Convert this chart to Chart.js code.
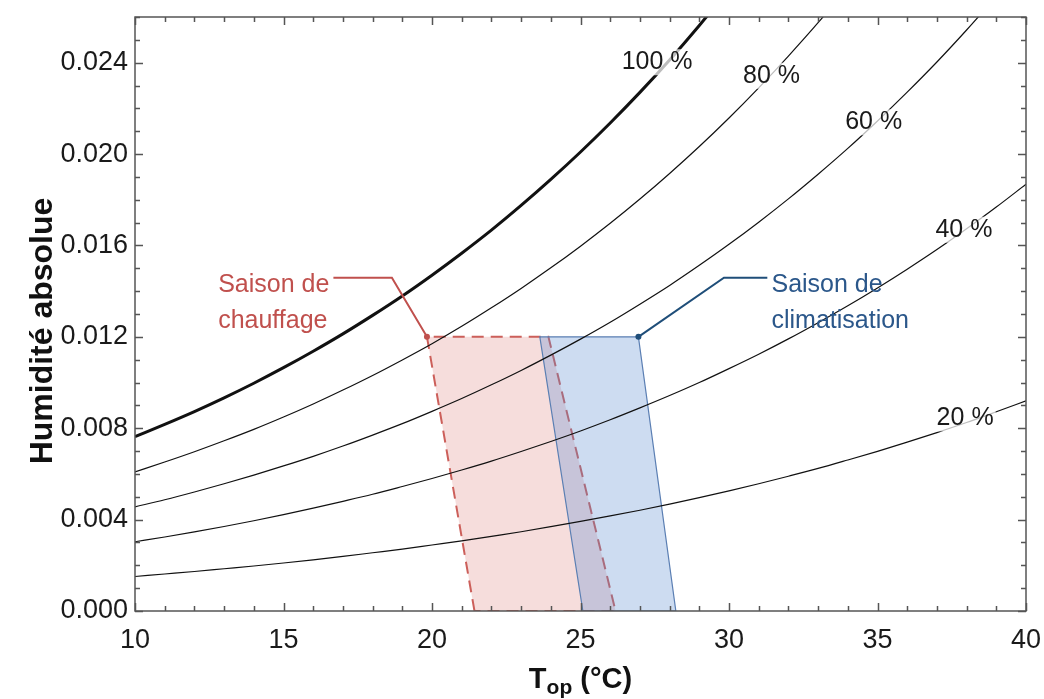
<!DOCTYPE html>
<html>
<head>
<meta charset="utf-8">
<script src="https://cdn.jsdelivr.net/npm/chart.js@4.4.0/dist/chart.umd.min.js"></script>
<style>
  html, body { margin: 0; padding: 0; background: #fff; }
  #wrap { width: 1044px; height: 699px; }
</style>
</head>
<body>
<div id="wrap"><canvas id="chart" width="1044" height="699"></canvas></div>
<script>
// temperature (°C) and absolute humidity (kg/kg)
const temps = [10, 11, 12, 13, 14, 15, 16, 17, 18, 19, 20, 21, 22, 23, 24, 25, 26, 27, 28, 29, 30,
               31, 32, 33, 34, 35, 36, 37, 38, 39, 40];
const rh100 = [0.00763, 0.00817, 0.00873, 0.00933, 0.00997, 0.01065, 0.01137, 0.01213, 0.01294, 0.01379,
               0.01470, 0.01566, 0.01667, 0.01775, 0.01889, 0.02009, 0.02136, 0.02270, 0.02412, 0.02563, 0.02721];
const rh80 = [0.00609, 0.00652, 0.00697, 0.00745, 0.00795, 0.00849, 0.00906, 0.00967, 0.01031, 0.01099,
              0.01170, 0.01246, 0.01327, 0.01412, 0.01502, 0.01597, 0.01697, 0.01803, 0.01915, 0.02033,
              0.02158, 0.02290, 0.02429, 0.02575, 0.02730];
const rh60 = [0.00456, 0.00487, 0.00521, 0.00557, 0.00595, 0.00635, 0.00677, 0.00722, 0.00770, 0.00820,
              0.00874, 0.00930, 0.00990, 0.01053, 0.01120, 0.01190, 0.01264, 0.01343, 0.01425, 0.01513,
              0.01605, 0.01702, 0.01804, 0.01912, 0.02025, 0.02145, 0.02271, 0.02403, 0.02543, 0.02690];
const rh40 = [0.00303, 0.00324, 0.00346, 0.00370, 0.00395, 0.00422, 0.00450, 0.00480, 0.00511, 0.00545,
              0.00580, 0.00617, 0.00656, 0.00698, 0.00742, 0.00788, 0.00837, 0.00889, 0.00943, 0.01000,
              0.01061, 0.01124, 0.01191, 0.01262, 0.01336, 0.01414, 0.01496, 0.01582, 0.01673, 0.01768, 0.01868];
const rh20 = [0.00151, 0.00162, 0.00173, 0.00185, 0.00197, 0.00210, 0.00224, 0.00239, 0.00255, 0.00271,
              0.00289, 0.00307, 0.00327, 0.00347, 0.00369, 0.00392, 0.00416, 0.00441, 0.00468, 0.00496,
              0.00526, 0.00557, 0.00590, 0.00624, 0.00661, 0.00699, 0.00739, 0.00781, 0.00825, 0.00872, 0.00920];

// comfort zones (corners: bottom-left, top-left, top-right, bottom-right)
const heatX = [21.43, 19.83, 23.92, 26.18];
const heatY = [0.000, 0.012, 0.012, 0.000];
const coolX = [25.08, 23.63, 26.95, 28.21];
const coolY = [0.000, 0.012, 0.012, 0.000];

// leader lines from the zone corners to the labels
const heatLeadX = [19.83, 18.65, 16.68];
const heatLeadY = [0.012, 0.01459, 0.01459];
const coolLeadX = [26.95, 29.83, 31.29];
const coolLeadY = [0.012, 0.01459, 0.01459];

const xTicks = [10, 15, 20, 25, 30, 35, 40];
const yTicks = [0.000, 0.004, 0.008, 0.012, 0.016, 0.020, 0.024];

const curveLabels = ['100 %', '80 %', '60 %', '40 %', '20 %'];
const curveLabelX = [27.58, 31.43, 34.87, 37.91, 37.95];
const curveLabelY = [0.02402, 0.02343, 0.02139, 0.01669, 0.00843];

const RED = '#C0504D';
const BLUE = '#2B578A';
const FONT = 'Arial, "Liberation Sans", sans-serif';

const toPoints = (xs, ys) => ys.map((y, i) => ({ x: xs[i], y: y }));
const closed = (xs, ys) => toPoints(xs.concat(xs[0]), ys.concat(ys[0]));

const curve = (values, width) => ({
    data: toPoints(temps, values),
    borderColor: '#111',
    borderWidth: width,
    pointRadius: 0,
    cubicInterpolationMode: 'monotone',
    fill: false,
    order: 2
});

const decorPlugin = {
    id: 'decor',
    afterDatasetsDraw(chart) {
        const ctx = chart.ctx;
        const xs = chart.scales.x, ys = chart.scales.y;
        const a = chart.chartArea;
        ctx.save();

        // curve labels with a light box that greys the line under the text
        ctx.font = '25px ' + FONT;
        ctx.textAlign = 'center';
        ctx.textBaseline = 'middle';
        curveLabels.forEach((t, i) => {
            const px = xs.getPixelForValue(curveLabelX[i]);
            const py = ys.getPixelForValue(curveLabelY[i]);
            const w = ctx.measureText(t).width;
            ctx.fillStyle = 'rgba(255,255,255,0.72)';
            ctx.fillRect(px - w / 2 - 2, py - 13, w + 4, 26);
            ctx.fillStyle = '#1a1a1a';
            ctx.fillText(t, px, py);
        });

        // zone labels
        ctx.font = '25px ' + FONT;
        ctx.textAlign = 'left';
        ctx.textBaseline = 'alphabetic';
        ctx.fillStyle = RED;
        ctx.fillText('Saison de', xs.getPixelForValue(12.80), ys.getPixelForValue(0.01395));
        ctx.fillText('chauffage', xs.getPixelForValue(12.80), ys.getPixelForValue(0.01237));
        ctx.fillStyle = BLUE;
        ctx.fillText('Saison de', xs.getPixelForValue(31.43), ys.getPixelForValue(0.01395));
        ctx.fillText('climatisation', xs.getPixelForValue(31.43), ys.getPixelForValue(0.01237));

        // frame and inward ticks on all four sides
        ctx.strokeStyle = '#555';
        ctx.lineWidth = 1.5;
        ctx.strokeRect(a.left, a.top, a.right - a.left, a.bottom - a.top);
        ctx.beginPath();
        for (let v = 10; v <= 40; v += 1) {
            const px = Math.round(xs.getPixelForValue(v)) + 0.5;
            const len = v % 5 === 0 ? 8 : 5;
            ctx.moveTo(px, a.bottom); ctx.lineTo(px, a.bottom - len);
            ctx.moveTo(px, a.top); ctx.lineTo(px, a.top + len);
        }
        for (let k = 0; k <= 26; k++) {
            const py = Math.round(ys.getPixelForValue(k / 1000)) + 0.5;
            const len = k % 4 === 0 ? 8 : 5;
            ctx.moveTo(a.left, py); ctx.lineTo(a.left + len, py);
            ctx.moveTo(a.right, py); ctx.lineTo(a.right - len, py);
        }
        ctx.stroke();

        // axis titles
        ctx.fillStyle = '#111';
        ctx.textBaseline = 'alphabetic';
        ctx.font = 'bold 29px ' + FONT;
        const tW = ctx.measureText('T').width;
        const rest = ' (°C)';
        const restW = ctx.measureText(rest).width;
        ctx.font = 'bold 21px ' + FONT;
        const subW = ctx.measureText('op').width;
        let x0 = (a.left + a.right) / 2 - (tW + subW + restW) / 2;
        const base = 688;
        ctx.font = 'bold 29px ' + FONT;
        ctx.fillText('T', x0, base);
        ctx.font = 'bold 21px ' + FONT;
        ctx.fillText('op', x0 + tW, base + 6);
        ctx.font = 'bold 29px ' + FONT;
        ctx.fillText(rest, x0 + tW + subW, base);

        ctx.translate(43, 331);
        ctx.rotate(-Math.PI / 2);
        ctx.textAlign = 'center';
        ctx.textBaseline = 'middle';
        ctx.font = 'bold 32px ' + FONT;
        ctx.fillText('Humidité absolue', 0, 0);
        ctx.restore();
    }
};

new Chart(document.getElementById('chart'), {
    type: 'line',
    data: {
        datasets: [
            {
                data: closed(coolX, coolY),
                borderColor: '#5B7FB3',
                borderWidth: 1.2,
                backgroundColor: 'rgba(90,140,210,0.30)',
                fill: 'shape',
                pointRadius: 0,
                tension: 0,
                order: 4
            },
            {
                data: closed(heatX, heatY),
                borderColor: '#CC5F5A',
                borderWidth: 2,
                borderDash: [12, 7],
                backgroundColor: 'rgba(220,120,115,0.25)',
                fill: 'shape',
                pointRadius: 0,
                tension: 0,
                order: 5
            },
            curve(rh100, 3),
            curve(rh80, 1.2),
            curve(rh60, 1.2),
            curve(rh40, 1.2),
            curve(rh20, 1.2),
            {
                data: toPoints(heatLeadX, heatLeadY),
                borderColor: RED,
                backgroundColor: RED,
                borderWidth: 2,
                pointRadius: [3, 0, 0],
                pointBorderWidth: 0,
                tension: 0,
                fill: false,
                order: 1
            },
            {
                data: toPoints(coolLeadX, coolLeadY),
                borderColor: '#1F4E79',
                backgroundColor: '#1F4E79',
                borderWidth: 2,
                pointRadius: [3, 0, 0],
                pointBorderWidth: 0,
                tension: 0,
                fill: false,
                order: 1
            }
        ]
    },
    options: {
        responsive: false,
        devicePixelRatio: 1,
        animation: false,
        layout: { padding: { top: 17, right: 18, left: 0, bottom: 0 } },
        plugins: {
            legend: { display: false },
            tooltip: { enabled: false },
            title: { display: false }
        },
        scales: {
            x: {
                type: 'linear',
                min: 10,
                max: 40,
                afterBuildTicks: (s) => { s.ticks = xTicks.map(v => ({ value: v })); },
                afterFit: (s) => { s.height = 88; s.paddingLeft = 0; s.paddingRight = 0; },
                grid: { display: false, drawTicks: false },
                border: { display: false },
                ticks: {
                    font: { size: 27, family: FONT },
                    color: '#1a1a1a',
                    padding: 13,
                    maxRotation: 0,
                    callback: (v) => String(v)
                }
            },
            y: {
                type: 'linear',
                min: 0,
                max: 0.026,
                afterBuildTicks: (s) => { s.ticks = yTicks.map(v => ({ value: v })); },
                afterFit: (s) => { s.width = 135; s.paddingTop = 0; s.paddingBottom = 0; },
                grid: { display: false, drawTicks: false },
                border: { display: false },
                ticks: {
                    font: { size: 27, family: FONT },
                    color: '#1a1a1a',
                    padding: 7,
                    callback: (v) => Number(v).toFixed(3)
                }
            }
        }
    },
    plugins: [decorPlugin]
});
</script>
</body>
</html>
